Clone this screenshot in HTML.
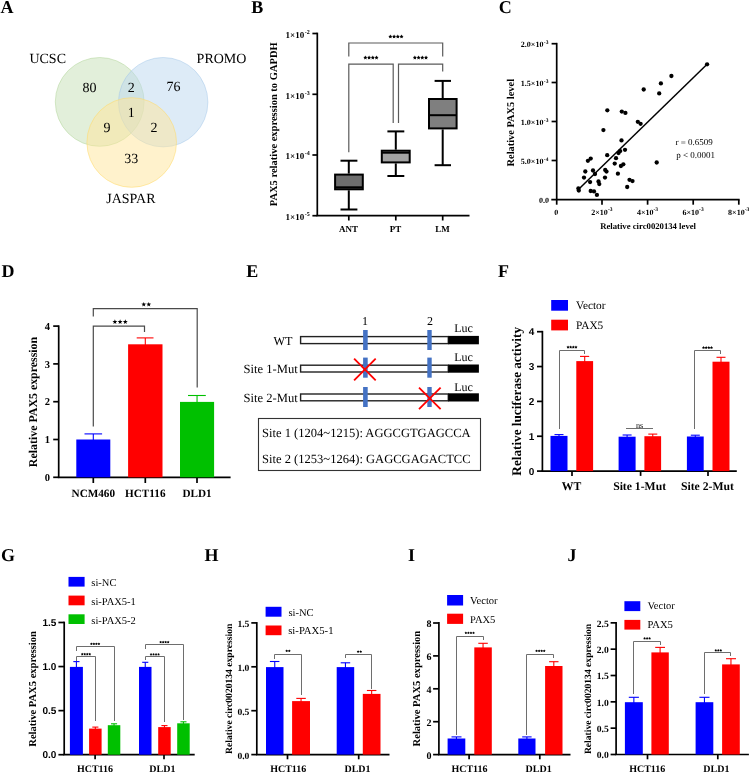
<!DOCTYPE html>
<html><head><meta charset="utf-8"><title>Figure</title>
<style>
html,body{margin:0;padding:0;background:#fff;}
body{width:750px;height:773px;overflow:hidden;}
svg{display:block;will-change:transform;}
text{font-kerning:normal;text-rendering:geometricPrecision;}
</style></head>
<body>
<svg width="750" height="773" viewBox="0 0 750 773">
<rect x="0" y="0" width="750" height="773" fill="#fff"/>
<text x="0.60" y="12.80" font-family="&quot;Liberation Serif&quot;, serif" font-size="18" font-weight="bold" text-anchor="start" fill="#000" >A</text>
<text x="251.20" y="12.80" font-family="&quot;Liberation Serif&quot;, serif" font-size="18" font-weight="bold" text-anchor="start" fill="#000" >B</text>
<text x="498.80" y="13.20" font-family="&quot;Liberation Serif&quot;, serif" font-size="18" font-weight="bold" text-anchor="start" fill="#000" >C</text>
<text x="1.60" y="277.40" font-family="&quot;Liberation Serif&quot;, serif" font-size="18" font-weight="bold" text-anchor="start" fill="#000" >D</text>
<text x="246.20" y="277.20" font-family="&quot;Liberation Serif&quot;, serif" font-size="18" font-weight="bold" text-anchor="start" fill="#000" >E</text>
<text x="498.00" y="277.20" font-family="&quot;Liberation Serif&quot;, serif" font-size="18" font-weight="bold" text-anchor="start" fill="#000" >F</text>
<text x="0.90" y="560.60" font-family="&quot;Liberation Serif&quot;, serif" font-size="18" font-weight="bold" text-anchor="start" fill="#000" >G</text>
<text x="204.40" y="560.80" font-family="&quot;Liberation Serif&quot;, serif" font-size="18" font-weight="bold" text-anchor="start" fill="#000" >H</text>
<text x="408.00" y="560.80" font-family="&quot;Liberation Serif&quot;, serif" font-size="18" font-weight="bold" text-anchor="start" fill="#000" >I</text>
<text x="567.60" y="560.80" font-family="&quot;Liberation Serif&quot;, serif" font-size="18" font-weight="bold" text-anchor="start" fill="#000" >J</text>
<g>
<circle cx="99.7" cy="101.9" r="44.4" fill="rgb(197,223,181)" fill-opacity="0.5" stroke="rgb(169,209,142)" stroke-opacity="0.45" stroke-width="1"/>
<circle cx="163.2" cy="102.2" r="44.7" fill="rgb(187,215,239)" fill-opacity="0.5" stroke="rgb(157,195,230)" stroke-opacity="0.45" stroke-width="1"/>
<circle cx="131.7" cy="142.5" r="44.8" fill="rgb(255,229,153)" fill-opacity="0.5" stroke="rgb(255,217,102)" stroke-opacity="0.5" stroke-width="1"/>
</g>
<text x="29.40" y="62.70" font-family="&quot;Liberation Serif&quot;, serif" font-size="14" font-weight="normal" text-anchor="start" fill="#000" >UCSC</text>
<text x="196.60" y="62.70" font-family="&quot;Liberation Serif&quot;, serif" font-size="14" font-weight="normal" text-anchor="start" fill="#000" >PROMO</text>
<text x="106.20" y="203.40" font-family="&quot;Liberation Serif&quot;, serif" font-size="14" font-weight="normal" text-anchor="start" fill="#000" >JASPAR</text>
<text x="89.50" y="91.50" font-family="&quot;Liberation Serif&quot;, serif" font-size="14" font-weight="normal" text-anchor="middle" fill="#000" >80</text>
<text x="131.20" y="91.50" font-family="&quot;Liberation Serif&quot;, serif" font-size="14" font-weight="normal" text-anchor="middle" fill="#000" >2</text>
<text x="173.60" y="91.40" font-family="&quot;Liberation Serif&quot;, serif" font-size="14" font-weight="normal" text-anchor="middle" fill="#000" >76</text>
<text x="131.30" y="117.30" font-family="&quot;Liberation Serif&quot;, serif" font-size="14" font-weight="normal" text-anchor="middle" fill="#000" >1</text>
<text x="107.00" y="131.60" font-family="&quot;Liberation Serif&quot;, serif" font-size="14" font-weight="normal" text-anchor="middle" fill="#000" >9</text>
<text x="153.90" y="131.70" font-family="&quot;Liberation Serif&quot;, serif" font-size="14" font-weight="normal" text-anchor="middle" fill="#000" >2</text>
<text x="131.30" y="162.90" font-family="&quot;Liberation Serif&quot;, serif" font-size="14" font-weight="normal" text-anchor="middle" fill="#000" >33</text>
<line x1="317.30" y1="32.65" x2="317.30" y2="215.70" stroke="#000" stroke-width="1.7" />
<line x1="316.45" y1="215.70" x2="469.50" y2="215.70" stroke="#000" stroke-width="1.7" />
<line x1="312.40" y1="33.50" x2="317.30" y2="33.50" stroke="#000" stroke-width="1.7" />
<text x="304.20" y="37.90" font-family="&quot;Liberation Serif&quot;, serif" font-size="9" font-weight="bold" text-anchor="end" fill="#000" >1×10</text>
<text x="304.80" y="33.90" font-family="&quot;Liberation Serif&quot;, serif" font-size="6" font-weight="bold" text-anchor="start" fill="#000" >-2</text>
<line x1="312.40" y1="94.30" x2="317.30" y2="94.30" stroke="#000" stroke-width="1.7" />
<text x="304.20" y="98.70" font-family="&quot;Liberation Serif&quot;, serif" font-size="9" font-weight="bold" text-anchor="end" fill="#000" >1×10</text>
<text x="304.80" y="94.70" font-family="&quot;Liberation Serif&quot;, serif" font-size="6" font-weight="bold" text-anchor="start" fill="#000" >-3</text>
<line x1="312.40" y1="155.00" x2="317.30" y2="155.00" stroke="#000" stroke-width="1.7" />
<text x="304.20" y="159.40" font-family="&quot;Liberation Serif&quot;, serif" font-size="9" font-weight="bold" text-anchor="end" fill="#000" >1×10</text>
<text x="304.80" y="155.40" font-family="&quot;Liberation Serif&quot;, serif" font-size="6" font-weight="bold" text-anchor="start" fill="#000" >-4</text>
<line x1="312.40" y1="215.70" x2="317.30" y2="215.70" stroke="#000" stroke-width="1.7" />
<text x="304.20" y="220.10" font-family="&quot;Liberation Serif&quot;, serif" font-size="9" font-weight="bold" text-anchor="end" fill="#000" >1×10</text>
<text x="304.80" y="216.10" font-family="&quot;Liberation Serif&quot;, serif" font-size="6" font-weight="bold" text-anchor="start" fill="#000" >-5</text>
<line x1="348.80" y1="215.70" x2="348.80" y2="220.50" stroke="#000" stroke-width="1.7" />
<line x1="395.80" y1="215.70" x2="395.80" y2="220.50" stroke="#000" stroke-width="1.7" />
<line x1="442.70" y1="215.70" x2="442.70" y2="220.50" stroke="#000" stroke-width="1.7" />
<text x="348.60" y="231.60" font-family="&quot;Liberation Serif&quot;, serif" font-size="9" font-weight="bold" text-anchor="middle" fill="#000" >ANT</text>
<text x="395.60" y="231.60" font-family="&quot;Liberation Serif&quot;, serif" font-size="9" font-weight="bold" text-anchor="middle" fill="#000" >PT</text>
<text x="442.60" y="231.60" font-family="&quot;Liberation Serif&quot;, serif" font-size="9" font-weight="bold" text-anchor="middle" fill="#000" >LM</text>
<text x="276.80" y="124.30" font-family="&quot;Liberation Serif&quot;, serif" font-size="10.5" font-weight="bold" text-anchor="middle" fill="#000" transform="rotate(-90 276.80 124.30)" >PAX5 relative expression to GAPDH</text>
<line x1="348.80" y1="160.70" x2="348.80" y2="173.60" stroke="#000" stroke-width="2.0" />
<line x1="348.80" y1="190.30" x2="348.80" y2="209.50" stroke="#000" stroke-width="2.0" />
<line x1="340.50" y1="160.70" x2="357.40" y2="160.70" stroke="#000" stroke-width="2.0" />
<line x1="340.50" y1="209.50" x2="357.40" y2="209.50" stroke="#000" stroke-width="2.0" />
<rect x="335.10" y="174.60" width="27.70" height="14.70" fill="#6e6e6e" stroke="#000" stroke-width="2.0" />
<line x1="335.10" y1="187.30" x2="362.80" y2="187.30" stroke="#000" stroke-width="2.0" />
<line x1="395.80" y1="131.40" x2="395.80" y2="149.70" stroke="#000" stroke-width="2.0" />
<line x1="395.80" y1="163.40" x2="395.80" y2="176.00" stroke="#000" stroke-width="2.0" />
<line x1="387.40" y1="131.40" x2="404.30" y2="131.40" stroke="#000" stroke-width="2.0" />
<line x1="387.40" y1="176.00" x2="404.30" y2="176.00" stroke="#000" stroke-width="2.0" />
<rect x="381.80" y="150.70" width="27.90" height="11.70" fill="#a3a3a3" stroke="#000" stroke-width="2.0" />
<line x1="381.80" y1="152.70" x2="409.70" y2="152.70" stroke="#000" stroke-width="2.0" />
<line x1="442.70" y1="80.90" x2="442.70" y2="98.00" stroke="#000" stroke-width="2.0" />
<line x1="442.70" y1="129.40" x2="442.70" y2="165.20" stroke="#000" stroke-width="2.0" />
<line x1="434.60" y1="80.90" x2="451.00" y2="80.90" stroke="#000" stroke-width="2.0" />
<line x1="434.60" y1="165.20" x2="451.00" y2="165.20" stroke="#000" stroke-width="2.0" />
<rect x="429.00" y="99.00" width="27.60" height="29.40" fill="#7f7f7f" stroke="#000" stroke-width="2.0" />
<line x1="429.00" y1="115.20" x2="456.60" y2="115.20" stroke="#000" stroke-width="2.0" />
<path d="M348.8,56.6 V43.0 H442.7 V56.6" stroke="#5a5a5a" stroke-width="1.2" fill="none" />
<path d="M348.8,152.3 V64.1 H393.2 V123.1" stroke="#5a5a5a" stroke-width="1.2" fill="none" />
<path d="M398.5,123.1 V64.1 H442.7 V71.5" stroke="#5a5a5a" stroke-width="1.2" fill="none" />
<polygon points="390.37,34.50 390.99,35.75 392.37,35.95 391.37,36.93 391.60,38.30 390.37,37.65 389.14,38.30 389.37,36.93 388.37,35.95 389.75,35.75" fill="#000"/>
<polygon points="394.09,34.50 394.71,35.75 396.09,35.95 395.09,36.93 395.32,38.30 394.09,37.65 392.86,38.30 393.09,36.93 392.09,35.95 393.47,35.75" fill="#000"/>
<polygon points="397.81,34.50 398.43,35.75 399.81,35.95 398.81,36.93 399.04,38.30 397.81,37.65 396.58,38.30 396.81,36.93 395.81,35.95 397.19,35.75" fill="#000"/>
<polygon points="401.53,34.50 402.15,35.75 403.53,35.95 402.53,36.93 402.76,38.30 401.53,37.65 400.30,38.30 400.53,36.93 399.53,35.95 400.91,35.75" fill="#000"/>
<polygon points="365.37,55.60 365.99,56.85 367.37,57.05 366.37,58.03 366.60,59.40 365.37,58.75 364.14,59.40 364.37,58.03 363.37,57.05 364.75,56.85" fill="#000"/>
<polygon points="369.09,55.60 369.71,56.85 371.09,57.05 370.09,58.03 370.32,59.40 369.09,58.75 367.86,59.40 368.09,58.03 367.09,57.05 368.47,56.85" fill="#000"/>
<polygon points="372.81,55.60 373.43,56.85 374.81,57.05 373.81,58.03 374.04,59.40 372.81,58.75 371.58,59.40 371.81,58.03 370.81,57.05 372.19,56.85" fill="#000"/>
<polygon points="376.53,55.60 377.15,56.85 378.53,57.05 377.53,58.03 377.76,59.40 376.53,58.75 375.30,59.40 375.53,58.03 374.53,57.05 375.91,56.85" fill="#000"/>
<polygon points="414.87,55.60 415.49,56.85 416.87,57.05 415.87,58.03 416.10,59.40 414.87,58.75 413.64,59.40 413.87,58.03 412.87,57.05 414.25,56.85" fill="#000"/>
<polygon points="418.59,55.60 419.21,56.85 420.59,57.05 419.59,58.03 419.82,59.40 418.59,58.75 417.36,59.40 417.59,58.03 416.59,57.05 417.97,56.85" fill="#000"/>
<polygon points="422.31,55.60 422.93,56.85 424.31,57.05 423.31,58.03 423.54,59.40 422.31,58.75 421.08,59.40 421.31,58.03 420.31,57.05 421.69,56.85" fill="#000"/>
<polygon points="426.03,55.60 426.65,56.85 428.03,57.05 427.03,58.03 427.26,59.40 426.03,58.75 424.80,59.40 425.03,58.03 424.03,57.05 425.41,56.85" fill="#000"/>
<line x1="556.70" y1="42.85" x2="556.70" y2="204.70" stroke="#000" stroke-width="1.7" />
<line x1="551.30" y1="199.70" x2="739.65" y2="199.70" stroke="#000" stroke-width="1.7" />
<line x1="551.60" y1="43.70" x2="556.70" y2="43.70" stroke="#000" stroke-width="1.7" />
<line x1="551.60" y1="82.50" x2="556.70" y2="82.50" stroke="#000" stroke-width="1.7" />
<line x1="551.60" y1="121.50" x2="556.70" y2="121.50" stroke="#000" stroke-width="1.7" />
<line x1="551.60" y1="160.50" x2="556.70" y2="160.50" stroke="#000" stroke-width="1.7" />
<line x1="602.00" y1="199.70" x2="602.00" y2="204.70" stroke="#000" stroke-width="1.7" />
<line x1="647.60" y1="199.70" x2="647.60" y2="204.70" stroke="#000" stroke-width="1.7" />
<line x1="693.20" y1="199.70" x2="693.20" y2="204.70" stroke="#000" stroke-width="1.7" />
<line x1="738.80" y1="199.70" x2="738.80" y2="204.70" stroke="#000" stroke-width="1.7" />
<text x="543.40" y="47.10" font-family="&quot;Liberation Serif&quot;, serif" font-size="8" font-weight="bold" text-anchor="end" fill="#000" >2.0×10</text>
<text x="543.80" y="43.70" font-family="&quot;Liberation Serif&quot;, serif" font-size="5.5" font-weight="bold" text-anchor="start" fill="#000" >-3</text>
<text x="543.40" y="85.90" font-family="&quot;Liberation Serif&quot;, serif" font-size="8" font-weight="bold" text-anchor="end" fill="#000" >1.5×10</text>
<text x="543.80" y="82.50" font-family="&quot;Liberation Serif&quot;, serif" font-size="5.5" font-weight="bold" text-anchor="start" fill="#000" >-3</text>
<text x="543.40" y="124.90" font-family="&quot;Liberation Serif&quot;, serif" font-size="8" font-weight="bold" text-anchor="end" fill="#000" >1.0×10</text>
<text x="543.80" y="121.50" font-family="&quot;Liberation Serif&quot;, serif" font-size="5.5" font-weight="bold" text-anchor="start" fill="#000" >-3</text>
<text x="543.40" y="163.90" font-family="&quot;Liberation Serif&quot;, serif" font-size="8" font-weight="bold" text-anchor="end" fill="#000" >5.0×10</text>
<text x="543.80" y="160.50" font-family="&quot;Liberation Serif&quot;, serif" font-size="5.5" font-weight="bold" text-anchor="start" fill="#000" >-4</text>
<text x="548.90" y="202.90" font-family="&quot;Liberation Serif&quot;, serif" font-size="8" font-weight="bold" text-anchor="end" fill="#000" >0.0</text>
<text x="556.20" y="214.80" font-family="&quot;Liberation Serif&quot;, serif" font-size="8" font-weight="bold" text-anchor="middle" fill="#000" >0</text>
<text x="591.30" y="215.00" font-family="&quot;Liberation Serif&quot;, serif" font-size="8" font-weight="bold" text-anchor="start" fill="#000" >2×10</text>
<text x="607.90" y="211.20" font-family="&quot;Liberation Serif&quot;, serif" font-size="5.5" font-weight="bold" text-anchor="start" fill="#000" >-3</text>
<text x="636.90" y="215.00" font-family="&quot;Liberation Serif&quot;, serif" font-size="8" font-weight="bold" text-anchor="start" fill="#000" >4×10</text>
<text x="653.50" y="211.20" font-family="&quot;Liberation Serif&quot;, serif" font-size="5.5" font-weight="bold" text-anchor="start" fill="#000" >-3</text>
<text x="682.50" y="215.00" font-family="&quot;Liberation Serif&quot;, serif" font-size="8" font-weight="bold" text-anchor="start" fill="#000" >6×10</text>
<text x="699.10" y="211.20" font-family="&quot;Liberation Serif&quot;, serif" font-size="5.5" font-weight="bold" text-anchor="start" fill="#000" >-3</text>
<text x="728.10" y="215.00" font-family="&quot;Liberation Serif&quot;, serif" font-size="8" font-weight="bold" text-anchor="start" fill="#000" >8×10</text>
<text x="744.70" y="211.20" font-family="&quot;Liberation Serif&quot;, serif" font-size="5.5" font-weight="bold" text-anchor="start" fill="#000" >-3</text>
<text x="648.10" y="228.70" font-family="&quot;Liberation Serif&quot;, serif" font-size="8.7" font-weight="bold" text-anchor="middle" fill="#000" >Relative circ0020134 level</text>
<text x="514.20" y="122.70" font-family="&quot;Liberation Serif&quot;, serif" font-size="10.4" font-weight="bold" text-anchor="middle" fill="#000" transform="rotate(-90 514.20 122.70)" >Relative PAX5 level</text>
<circle cx="707.1" cy="64.3" r="2.15" fill="#000"/>
<circle cx="671.4" cy="76.0" r="2.15" fill="#000"/>
<circle cx="660.9" cy="83.4" r="2.15" fill="#000"/>
<circle cx="659.2" cy="93.4" r="2.15" fill="#000"/>
<circle cx="643.7" cy="89.5" r="2.15" fill="#000"/>
<circle cx="637.8" cy="121.8" r="2.15" fill="#000"/>
<circle cx="640.6" cy="123.8" r="2.15" fill="#000"/>
<circle cx="656.7" cy="162.5" r="2.15" fill="#000"/>
<circle cx="607.3" cy="110.3" r="2.15" fill="#000"/>
<circle cx="621.8" cy="111.6" r="2.15" fill="#000"/>
<circle cx="625.4" cy="112.9" r="2.15" fill="#000"/>
<circle cx="603.4" cy="130.1" r="2.15" fill="#000"/>
<circle cx="621.5" cy="140.4" r="2.15" fill="#000"/>
<circle cx="625.0" cy="149.8" r="2.15" fill="#000"/>
<circle cx="620.2" cy="151.1" r="2.15" fill="#000"/>
<circle cx="618.5" cy="153.0" r="2.15" fill="#000"/>
<circle cx="607.2" cy="155.2" r="2.15" fill="#000"/>
<circle cx="590.7" cy="158.6" r="2.15" fill="#000"/>
<circle cx="587.9" cy="160.8" r="2.15" fill="#000"/>
<circle cx="616.0" cy="158.2" r="2.15" fill="#000"/>
<circle cx="614.7" cy="163.6" r="2.15" fill="#000"/>
<circle cx="623.3" cy="164.3" r="2.15" fill="#000"/>
<circle cx="620.9" cy="166.0" r="2.15" fill="#000"/>
<circle cx="585.3" cy="171.5" r="2.15" fill="#000"/>
<circle cx="593.0" cy="170.5" r="2.15" fill="#000"/>
<circle cx="605.2" cy="169.9" r="2.15" fill="#000"/>
<circle cx="606.5" cy="171.6" r="2.15" fill="#000"/>
<circle cx="595.0" cy="174.0" r="2.15" fill="#000"/>
<circle cx="617.9" cy="173.7" r="2.15" fill="#000"/>
<circle cx="584.0" cy="177.6" r="2.15" fill="#000"/>
<circle cx="605.0" cy="177.6" r="2.15" fill="#000"/>
<circle cx="590.1" cy="182.1" r="2.15" fill="#000"/>
<circle cx="598.5" cy="181.5" r="2.15" fill="#000"/>
<circle cx="599.3" cy="184.1" r="2.15" fill="#000"/>
<circle cx="629.5" cy="179.8" r="2.15" fill="#000"/>
<circle cx="632.5" cy="181.1" r="2.15" fill="#000"/>
<circle cx="627.2" cy="187.0" r="2.15" fill="#000"/>
<circle cx="578.4" cy="188.4" r="2.15" fill="#000"/>
<circle cx="578.8" cy="190.6" r="2.15" fill="#000"/>
<circle cx="590.7" cy="191.0" r="2.15" fill="#000"/>
<circle cx="594.0" cy="191.4" r="2.15" fill="#000"/>
<circle cx="596.9" cy="194.9" r="2.15" fill="#000"/>
<line x1="578.90" y1="189.00" x2="707.10" y2="64.30" stroke="#000" stroke-width="1.5" />
<text x="675.50" y="145.00" font-family="&quot;Liberation Serif&quot;, serif" font-size="9" font-weight="normal" text-anchor="start" fill="#000" >r = 0.6509</text>
<text x="676.20" y="158.30" font-family="&quot;Liberation Serif&quot;, serif" font-size="9" font-weight="normal" text-anchor="start" fill="#000" >p &lt; 0.0001</text>
<line x1="58.70" y1="325.35" x2="58.70" y2="477.30" stroke="#000" stroke-width="1.7" />
<line x1="57.85" y1="477.30" x2="230.60" y2="477.30" stroke="#000" stroke-width="1.7" />
<line x1="53.20" y1="477.30" x2="58.70" y2="477.30" stroke="#000" stroke-width="1.7" />
<text x="50.00" y="480.90" font-family="&quot;Liberation Serif&quot;, serif" font-size="10.5" font-weight="bold" text-anchor="end" fill="#000" >0</text>
<line x1="53.20" y1="439.50" x2="58.70" y2="439.50" stroke="#000" stroke-width="1.7" />
<text x="50.00" y="443.10" font-family="&quot;Liberation Serif&quot;, serif" font-size="10.5" font-weight="bold" text-anchor="end" fill="#000" >1</text>
<line x1="53.20" y1="401.70" x2="58.70" y2="401.70" stroke="#000" stroke-width="1.7" />
<text x="50.00" y="405.30" font-family="&quot;Liberation Serif&quot;, serif" font-size="10.5" font-weight="bold" text-anchor="end" fill="#000" >2</text>
<line x1="53.20" y1="363.90" x2="58.70" y2="363.90" stroke="#000" stroke-width="1.7" />
<text x="50.00" y="367.50" font-family="&quot;Liberation Serif&quot;, serif" font-size="10.5" font-weight="bold" text-anchor="end" fill="#000" >3</text>
<line x1="53.20" y1="326.10" x2="58.70" y2="326.10" stroke="#000" stroke-width="1.7" />
<text x="50.00" y="329.70" font-family="&quot;Liberation Serif&quot;, serif" font-size="10.5" font-weight="bold" text-anchor="end" fill="#000" >4</text>
<line x1="93.30" y1="477.30" x2="93.30" y2="483.00" stroke="#000" stroke-width="1.7" />
<line x1="145.30" y1="477.30" x2="145.30" y2="483.00" stroke="#000" stroke-width="1.7" />
<line x1="197.00" y1="477.30" x2="197.00" y2="483.00" stroke="#000" stroke-width="1.7" />
<rect x="76.30" y="439.50" width="34.00" height="37.80" fill="#0000ff" />
<line x1="93.30" y1="433.90" x2="93.30" y2="440.50" stroke="#0000ff" stroke-width="1.1" />
<line x1="84.50" y1="433.90" x2="102.10" y2="433.90" stroke="#0000ff" stroke-width="1.1" />
<rect x="128.10" y="344.30" width="34.40" height="133.00" fill="#ff0000" />
<line x1="145.30" y1="337.90" x2="145.30" y2="345.30" stroke="#ff0000" stroke-width="1.1" />
<line x1="136.70" y1="337.90" x2="153.50" y2="337.90" stroke="#ff0000" stroke-width="1.1" />
<rect x="180.00" y="401.90" width="34.10" height="75.40" fill="#00c000" />
<line x1="197.05" y1="395.50" x2="197.05" y2="402.90" stroke="#00c000" stroke-width="1.1" />
<line x1="188.00" y1="395.50" x2="205.80" y2="395.50" stroke="#00c000" stroke-width="1.1" />
<path d="M93.3,316.6 V308.7 H197.2 V387.4" stroke="#4a4a4a" stroke-width="1.2" fill="none" />
<path d="M93.3,426.4 V326.1 H144.5 V332.0" stroke="#4a4a4a" stroke-width="1.2" fill="none" />
<polygon points="143.75,301.89 144.35,303.62 146.18,303.66 144.72,304.76 145.25,306.51 143.75,305.46 142.25,306.51 142.78,304.76 141.32,303.66 143.15,303.62" fill="#000"/>
<polygon points="148.75,301.89 149.35,303.62 151.18,303.66 149.72,304.76 150.25,306.51 148.75,305.46 147.25,306.51 147.78,304.76 146.32,303.66 148.15,303.62" fill="#000"/>
<polygon points="114.90,319.30 115.51,321.06 117.37,321.09 115.89,322.22 116.43,324.00 114.90,322.94 113.37,324.00 113.91,322.22 112.43,321.09 114.29,321.06" fill="#000"/>
<polygon points="120.10,319.30 120.71,321.06 122.57,321.09 121.09,322.22 121.63,324.00 120.10,322.94 118.57,324.00 119.11,322.22 117.63,321.09 119.49,321.06" fill="#000"/>
<polygon points="125.30,319.30 125.91,321.06 127.77,321.09 126.29,322.22 126.83,324.00 125.30,322.94 123.77,324.00 124.31,322.22 122.83,321.09 124.69,321.06" fill="#000"/>
<text x="93.30" y="496.60" font-family="&quot;Liberation Serif&quot;, serif" font-size="11.2" font-weight="bold" text-anchor="middle" fill="#000" >NCM460</text>
<text x="145.30" y="496.60" font-family="&quot;Liberation Serif&quot;, serif" font-size="11.2" font-weight="bold" text-anchor="middle" fill="#000" >HCT116</text>
<text x="197.00" y="496.60" font-family="&quot;Liberation Serif&quot;, serif" font-size="11.2" font-weight="bold" text-anchor="middle" fill="#000" >DLD1</text>
<text x="37.10" y="402.00" font-family="&quot;Liberation Serif&quot;, serif" font-size="11.9" font-weight="bold" text-anchor="middle" fill="#000" transform="rotate(-90 37.10 402.00)" >Relative PAX5 expression</text>
<rect x="300.60" y="336.60" width="147.70" height="7.00" fill="#fff" stroke="#222" stroke-width="1.4" />
<rect x="448.30" y="335.90" width="30.60" height="8.40" fill="#000" />
<rect x="300.60" y="365.20" width="147.70" height="6.80" fill="#fff" stroke="#222" stroke-width="1.4" />
<rect x="448.30" y="364.50" width="30.60" height="8.20" fill="#000" />
<rect x="300.60" y="394.00" width="147.70" height="6.80" fill="#fff" stroke="#222" stroke-width="1.4" />
<rect x="448.30" y="393.30" width="30.60" height="8.20" fill="#000" />
<rect x="363.10" y="330.00" width="4.60" height="20.00" fill="#4472c4" />
<rect x="427.30" y="330.00" width="4.40" height="20.00" fill="#4472c4" />
<rect x="363.10" y="357.60" width="4.60" height="20.10" fill="#4472c4" />
<rect x="427.30" y="357.60" width="4.40" height="20.10" fill="#4472c4" />
<rect x="363.10" y="387.00" width="4.60" height="20.00" fill="#4472c4" />
<rect x="427.30" y="387.00" width="4.40" height="20.00" fill="#4472c4" />
<line x1="354.10" y1="358.70" x2="375.70" y2="380.30" stroke="#ff0000" stroke-width="1.8" />
<line x1="354.10" y1="380.30" x2="375.70" y2="358.70" stroke="#ff0000" stroke-width="1.8" />
<line x1="419.00" y1="387.60" x2="440.60" y2="409.20" stroke="#ff0000" stroke-width="1.8" />
<line x1="419.00" y1="409.20" x2="440.60" y2="387.60" stroke="#ff0000" stroke-width="1.8" />
<text x="365.00" y="325.20" font-family="&quot;Liberation Serif&quot;, serif" font-size="12" font-weight="normal" text-anchor="middle" fill="#000" >1</text>
<text x="429.90" y="324.90" font-family="&quot;Liberation Serif&quot;, serif" font-size="12" font-weight="normal" text-anchor="middle" fill="#000" >2</text>
<text x="463.50" y="332.00" font-family="&quot;Liberation Serif&quot;, serif" font-size="12" font-weight="normal" text-anchor="middle" fill="#000" >Luc</text>
<text x="463.50" y="360.90" font-family="&quot;Liberation Serif&quot;, serif" font-size="12" font-weight="normal" text-anchor="middle" fill="#000" >Luc</text>
<text x="463.50" y="391.00" font-family="&quot;Liberation Serif&quot;, serif" font-size="12" font-weight="normal" text-anchor="middle" fill="#000" >Luc</text>
<text x="273.40" y="344.80" font-family="&quot;Liberation Serif&quot;, serif" font-size="12.2" font-weight="normal" text-anchor="start" fill="#000" >WT</text>
<text x="297.70" y="372.70" font-family="&quot;Liberation Serif&quot;, serif" font-size="12.6" font-weight="normal" text-anchor="end" fill="#000" >Site 1-Mut</text>
<text x="297.70" y="401.60" font-family="&quot;Liberation Serif&quot;, serif" font-size="12.6" font-weight="normal" text-anchor="end" fill="#000" >Site 2-Mut</text>
<rect x="258.50" y="418.50" width="222.00" height="52.00" fill="none" stroke="#333" stroke-width="1.1" />
<text x="262.00" y="437.30" font-family="&quot;Liberation Serif&quot;, serif" font-size="12.55" font-weight="normal" text-anchor="start" fill="#000" >Site 1 (1204~1215): AGGCGTGAGCCA</text>
<text x="262.00" y="462.80" font-family="&quot;Liberation Serif&quot;, serif" font-size="12.55" font-weight="normal" text-anchor="start" fill="#000" >Site 2 (1253~1264): GAGCGAGACTCC</text>
<line x1="542.40" y1="330.85" x2="542.40" y2="471.10" stroke="#000" stroke-width="1.7" />
<line x1="541.55" y1="471.10" x2="736.80" y2="471.10" stroke="#000" stroke-width="1.7" />
<line x1="537.00" y1="471.10" x2="542.40" y2="471.10" stroke="#000" stroke-width="1.7" />
<text x="534.20" y="474.70" font-family="&quot;Liberation Sans&quot;, sans-serif" font-size="10" font-weight="bold" text-anchor="end" fill="#000" >0</text>
<line x1="537.00" y1="436.25" x2="542.40" y2="436.25" stroke="#000" stroke-width="1.7" />
<text x="534.20" y="439.85" font-family="&quot;Liberation Sans&quot;, sans-serif" font-size="10" font-weight="bold" text-anchor="end" fill="#000" >1</text>
<line x1="537.00" y1="401.40" x2="542.40" y2="401.40" stroke="#000" stroke-width="1.7" />
<text x="534.20" y="405.00" font-family="&quot;Liberation Sans&quot;, sans-serif" font-size="10" font-weight="bold" text-anchor="end" fill="#000" >2</text>
<line x1="537.00" y1="366.55" x2="542.40" y2="366.55" stroke="#000" stroke-width="1.7" />
<text x="534.20" y="370.15" font-family="&quot;Liberation Sans&quot;, sans-serif" font-size="10" font-weight="bold" text-anchor="end" fill="#000" >3</text>
<line x1="537.00" y1="331.70" x2="542.40" y2="331.70" stroke="#000" stroke-width="1.7" />
<text x="534.20" y="335.30" font-family="&quot;Liberation Sans&quot;, sans-serif" font-size="10" font-weight="bold" text-anchor="end" fill="#000" >4</text>
<line x1="572.00" y1="471.10" x2="572.00" y2="475.90" stroke="#000" stroke-width="1.7" />
<line x1="640.60" y1="471.10" x2="640.60" y2="475.90" stroke="#000" stroke-width="1.7" />
<line x1="708.00" y1="471.10" x2="708.00" y2="475.90" stroke="#000" stroke-width="1.7" />
<rect x="550.50" y="435.90" width="17.00" height="35.20" fill="#0000ff" />
<line x1="559.00" y1="434.60" x2="559.00" y2="436.90" stroke="#0000ff" stroke-width="1.1" />
<line x1="554.50" y1="434.60" x2="563.50" y2="434.60" stroke="#0000ff" stroke-width="1.1" />
<rect x="576.30" y="361.10" width="16.80" height="110.00" fill="#ff0000" />
<line x1="584.70" y1="356.40" x2="584.70" y2="362.10" stroke="#ff0000" stroke-width="1.1" />
<line x1="580.00" y1="356.40" x2="589.20" y2="356.40" stroke="#ff0000" stroke-width="1.1" />
<rect x="618.60" y="436.70" width="17.00" height="34.40" fill="#0000ff" />
<line x1="627.10" y1="435.00" x2="627.10" y2="437.70" stroke="#0000ff" stroke-width="1.1" />
<line x1="622.60" y1="435.00" x2="631.60" y2="435.00" stroke="#0000ff" stroke-width="1.1" />
<rect x="644.40" y="436.20" width="16.70" height="34.90" fill="#ff0000" />
<line x1="652.75" y1="434.10" x2="652.75" y2="437.20" stroke="#ff0000" stroke-width="1.1" />
<line x1="648.30" y1="434.10" x2="657.30" y2="434.10" stroke="#ff0000" stroke-width="1.1" />
<rect x="686.90" y="436.50" width="16.80" height="34.60" fill="#0000ff" />
<line x1="695.30" y1="435.20" x2="695.30" y2="437.50" stroke="#0000ff" stroke-width="1.1" />
<line x1="690.80" y1="435.20" x2="699.80" y2="435.20" stroke="#0000ff" stroke-width="1.1" />
<rect x="712.50" y="361.70" width="17.00" height="109.40" fill="#ff0000" />
<line x1="721.00" y1="357.30" x2="721.00" y2="362.70" stroke="#ff0000" stroke-width="1.1" />
<line x1="716.50" y1="357.30" x2="725.50" y2="357.30" stroke="#ff0000" stroke-width="1.1" />
<path d="M559.5,428.5 V350.5 H584.5 V353.5" stroke="#6e6e6e" stroke-width="1.0" fill="none" stroke-linecap="square"/>
<path d="M694.5,428.5 V350.5 H720.5 V353.5" stroke="#6e6e6e" stroke-width="1.0" fill="none" stroke-linecap="square"/>
<path d="M626.5,428.5 H652.5" stroke="#6e6e6e" stroke-width="1.0" fill="none" stroke-linecap="square"/>
<polygon points="568.02,345.60 568.54,346.49 569.55,346.71 568.86,347.47 568.97,348.50 568.02,348.08 567.08,348.50 567.19,347.47 566.50,346.71 567.51,346.49" fill="#000"/>
<polygon points="570.67,345.60 571.19,346.49 572.20,346.71 571.51,347.47 571.62,348.50 570.67,348.08 569.73,348.50 569.84,347.47 569.15,346.71 570.16,346.49" fill="#000"/>
<polygon points="573.33,345.60 573.84,346.49 574.85,346.71 574.16,347.47 574.27,348.50 573.33,348.08 572.38,348.50 572.49,347.47 571.80,346.71 572.81,346.49" fill="#000"/>
<polygon points="575.98,345.60 576.49,346.49 577.50,346.71 576.81,347.47 576.92,348.50 575.98,348.08 575.03,348.50 575.14,347.47 574.45,346.71 575.46,346.49" fill="#000"/>
<polygon points="703.52,346.05 704.04,346.94 705.05,347.16 704.36,347.92 704.47,348.95 703.52,348.53 702.58,348.95 702.69,347.92 702.00,347.16 703.01,346.94" fill="#000"/>
<polygon points="706.17,346.05 706.69,346.94 707.70,347.16 707.01,347.92 707.12,348.95 706.17,348.53 705.23,348.95 705.34,347.92 704.65,347.16 705.66,346.94" fill="#000"/>
<polygon points="708.83,346.05 709.34,346.94 710.35,347.16 709.66,347.92 709.77,348.95 708.83,348.53 707.88,348.95 707.99,347.92 707.30,347.16 708.31,346.94" fill="#000"/>
<polygon points="711.48,346.05 711.99,346.94 713.00,347.16 712.31,347.92 712.42,348.95 711.48,348.53 710.53,348.95 710.64,347.92 709.95,347.16 710.96,346.94" fill="#000"/>
<text x="639.60" y="427.60" font-family="&quot;Liberation Serif&quot;, serif" font-size="8.2" font-weight="normal" text-anchor="middle" fill="#000" >ns</text>
<rect x="551.20" y="300.00" width="16.80" height="10.70" fill="#0000ff" />
<rect x="551.20" y="319.70" width="16.80" height="10.70" fill="#ff0000" />
<text x="576.00" y="309.30" font-family="&quot;Liberation Serif&quot;, serif" font-size="11.3" font-weight="normal" text-anchor="start" fill="#000" >Vector</text>
<text x="576.00" y="328.90" font-family="&quot;Liberation Serif&quot;, serif" font-size="11.3" font-weight="normal" text-anchor="start" fill="#000" >PAX5</text>
<text x="571.60" y="490.20" font-family="&quot;Liberation Serif&quot;, serif" font-size="11.7" font-weight="bold" text-anchor="middle" fill="#000" >WT</text>
<text x="639.60" y="490.20" font-family="&quot;Liberation Serif&quot;, serif" font-size="11.7" font-weight="bold" text-anchor="middle" fill="#000" >Site 1-Mut</text>
<text x="707.40" y="490.20" font-family="&quot;Liberation Serif&quot;, serif" font-size="11.7" font-weight="bold" text-anchor="middle" fill="#000" >Site 2-Mut</text>
<text x="520.80" y="401.30" font-family="&quot;Liberation Serif&quot;, serif" font-size="13.2" font-weight="bold" text-anchor="middle" fill="#000" transform="rotate(-90 520.80 401.30)" >Relative luciferase activity</text>
<line x1="64.20" y1="621.65" x2="64.20" y2="754.70" stroke="#000" stroke-width="1.7" />
<line x1="63.35" y1="754.70" x2="194.70" y2="754.70" stroke="#000" stroke-width="1.7" />
<line x1="58.40" y1="754.70" x2="64.20" y2="754.70" stroke="#000" stroke-width="1.7" />
<text x="56.40" y="758.30" font-family="&quot;Liberation Sans&quot;, sans-serif" font-size="10" font-weight="bold" text-anchor="end" fill="#000" >0.0</text>
<line x1="58.40" y1="710.63" x2="64.20" y2="710.63" stroke="#000" stroke-width="1.7" />
<text x="56.40" y="714.23" font-family="&quot;Liberation Sans&quot;, sans-serif" font-size="10" font-weight="bold" text-anchor="end" fill="#000" >0.5</text>
<line x1="58.40" y1="666.56" x2="64.20" y2="666.56" stroke="#000" stroke-width="1.7" />
<text x="56.40" y="670.16" font-family="&quot;Liberation Sans&quot;, sans-serif" font-size="10" font-weight="bold" text-anchor="end" fill="#000" >1.0</text>
<line x1="58.40" y1="622.49" x2="64.20" y2="622.49" stroke="#000" stroke-width="1.7" />
<text x="56.40" y="626.09" font-family="&quot;Liberation Sans&quot;, sans-serif" font-size="10" font-weight="bold" text-anchor="end" fill="#000" >1.5</text>
<line x1="95.10" y1="754.70" x2="95.10" y2="759.30" stroke="#000" stroke-width="1.7" />
<line x1="164.00" y1="754.70" x2="164.00" y2="759.30" stroke="#000" stroke-width="1.7" />
<rect x="69.90" y="666.90" width="13.00" height="87.80" fill="#0000ff" />
<line x1="76.40" y1="661.60" x2="76.40" y2="667.90" stroke="#0000ff" stroke-width="1.1" />
<line x1="73.30" y1="661.60" x2="79.50" y2="661.60" stroke="#0000ff" stroke-width="1.1" />
<rect x="89.10" y="728.60" width="12.50" height="26.10" fill="#ff0000" />
<line x1="95.35" y1="727.10" x2="95.35" y2="729.60" stroke="#ff0000" stroke-width="1.1" />
<line x1="92.30" y1="727.10" x2="98.40" y2="727.10" stroke="#ff0000" stroke-width="1.1" />
<rect x="107.80" y="725.20" width="12.50" height="29.50" fill="#00c000" />
<line x1="114.05" y1="723.80" x2="114.05" y2="726.20" stroke="#00c000" stroke-width="1.1" />
<line x1="111.00" y1="723.80" x2="117.10" y2="723.80" stroke="#00c000" stroke-width="1.1" />
<rect x="139.00" y="666.90" width="12.50" height="87.80" fill="#0000ff" />
<line x1="145.25" y1="662.30" x2="145.25" y2="667.90" stroke="#0000ff" stroke-width="1.1" />
<line x1="142.20" y1="662.30" x2="148.30" y2="662.30" stroke="#0000ff" stroke-width="1.1" />
<rect x="158.20" y="727.10" width="12.50" height="27.60" fill="#ff0000" />
<line x1="164.45" y1="725.60" x2="164.45" y2="728.10" stroke="#ff0000" stroke-width="1.1" />
<line x1="161.40" y1="725.60" x2="167.50" y2="725.60" stroke="#ff0000" stroke-width="1.1" />
<rect x="177.20" y="723.30" width="12.50" height="31.40" fill="#00c000" />
<line x1="183.45" y1="721.80" x2="183.45" y2="724.30" stroke="#00c000" stroke-width="1.1" />
<line x1="180.40" y1="721.80" x2="186.50" y2="721.80" stroke="#00c000" stroke-width="1.1" />
<path d="M76.5,660.5 V656.5 H95.5 V720.5" stroke="#6e6e6e" stroke-width="1.0" fill="none" stroke-linecap="square"/>
<path d="M76.5,650.5 V646.5 H114.5 V720.5" stroke="#6e6e6e" stroke-width="1.0" fill="none" stroke-linecap="square"/>
<path d="M145.5,659.5 V656.5 H164.5 V721.5" stroke="#6e6e6e" stroke-width="1.0" fill="none" stroke-linecap="square"/>
<path d="M145.5,648.5 V644.5 H183.5 V719.5" stroke="#6e6e6e" stroke-width="1.0" fill="none" stroke-linecap="square"/>
<polygon points="82.25,652.79 82.72,653.59 83.63,653.79 83.01,654.48 83.10,655.41 82.25,655.04 81.40,655.41 81.49,654.48 80.87,653.79 81.78,653.59" fill="#000"/>
<polygon points="84.75,652.79 85.22,653.59 86.13,653.79 85.51,654.48 85.60,655.41 84.75,655.04 83.90,655.41 83.99,654.48 83.37,653.79 84.28,653.59" fill="#000"/>
<polygon points="87.25,652.79 87.72,653.59 88.63,653.79 88.01,654.48 88.10,655.41 87.25,655.04 86.40,655.41 86.49,654.48 85.87,653.79 86.78,653.59" fill="#000"/>
<polygon points="89.75,652.79 90.22,653.59 91.13,653.79 90.51,654.48 90.60,655.41 89.75,655.04 88.90,655.41 88.99,654.48 88.37,653.79 89.28,653.59" fill="#000"/>
<polygon points="91.40,642.49 91.87,643.29 92.78,643.49 92.16,644.18 92.25,645.11 91.40,644.74 90.55,645.11 90.64,644.18 90.02,643.49 90.93,643.29" fill="#000"/>
<polygon points="93.90,642.49 94.37,643.29 95.28,643.49 94.66,644.18 94.75,645.11 93.90,644.74 93.05,645.11 93.14,644.18 92.52,643.49 93.43,643.29" fill="#000"/>
<polygon points="96.40,642.49 96.87,643.29 97.78,643.49 97.16,644.18 97.25,645.11 96.40,644.74 95.55,645.11 95.64,644.18 95.02,643.49 95.93,643.29" fill="#000"/>
<polygon points="98.90,642.49 99.37,643.29 100.28,643.49 99.66,644.18 99.75,645.11 98.90,644.74 98.05,645.11 98.14,644.18 97.52,643.49 98.43,643.29" fill="#000"/>
<polygon points="151.05,652.89 151.52,653.69 152.43,653.89 151.81,654.58 151.90,655.51 151.05,655.14 150.20,655.51 150.29,654.58 149.67,653.89 150.58,653.69" fill="#000"/>
<polygon points="153.55,652.89 154.02,653.69 154.93,653.89 154.31,654.58 154.40,655.51 153.55,655.14 152.70,655.51 152.79,654.58 152.17,653.89 153.08,653.69" fill="#000"/>
<polygon points="156.05,652.89 156.52,653.69 157.43,653.89 156.81,654.58 156.90,655.51 156.05,655.14 155.20,655.51 155.29,654.58 154.67,653.89 155.58,653.69" fill="#000"/>
<polygon points="158.55,652.89 159.02,653.69 159.93,653.89 159.31,654.58 159.40,655.51 158.55,655.14 157.70,655.51 157.79,654.58 157.17,653.89 158.08,653.69" fill="#000"/>
<polygon points="160.65,640.69 161.12,641.49 162.03,641.69 161.41,642.38 161.50,643.31 160.65,642.94 159.80,643.31 159.89,642.38 159.27,641.69 160.18,641.49" fill="#000"/>
<polygon points="163.15,640.69 163.62,641.49 164.53,641.69 163.91,642.38 164.00,643.31 163.15,642.94 162.30,643.31 162.39,642.38 161.77,641.69 162.68,641.49" fill="#000"/>
<polygon points="165.65,640.69 166.12,641.49 167.03,641.69 166.41,642.38 166.50,643.31 165.65,642.94 164.80,643.31 164.89,642.38 164.27,641.69 165.18,641.49" fill="#000"/>
<polygon points="168.15,640.69 168.62,641.49 169.53,641.69 168.91,642.38 169.00,643.31 168.15,642.94 167.30,643.31 167.39,642.38 166.77,641.69 167.68,641.49" fill="#000"/>
<rect x="68.50" y="576.90" width="16.10" height="9.70" fill="#0000ff" />
<rect x="68.50" y="595.60" width="16.10" height="9.70" fill="#ff0000" />
<rect x="68.50" y="614.30" width="16.10" height="9.70" fill="#00c000" />
<text x="91.30" y="586.20" font-family="&quot;Liberation Serif&quot;, serif" font-size="10.5" font-weight="normal" text-anchor="start" fill="#000" >si-NC</text>
<text x="91.30" y="604.90" font-family="&quot;Liberation Serif&quot;, serif" font-size="10.5" font-weight="normal" text-anchor="start" fill="#000" >si-PAX5-1</text>
<text x="91.30" y="623.60" font-family="&quot;Liberation Serif&quot;, serif" font-size="10.5" font-weight="normal" text-anchor="start" fill="#000" >si-PAX5-2</text>
<text x="95.00" y="771.80" font-family="&quot;Liberation Serif&quot;, serif" font-size="10" font-weight="bold" text-anchor="middle" fill="#000" >HCT116</text>
<text x="162.40" y="771.80" font-family="&quot;Liberation Serif&quot;, serif" font-size="10" font-weight="bold" text-anchor="middle" fill="#000" >DLD1</text>
<text x="35.70" y="688.90" font-family="&quot;Liberation Serif&quot;, serif" font-size="10.55" font-weight="bold" text-anchor="middle" fill="#000" transform="rotate(-90 35.70 688.90)" >Relative PAX5 expression</text>
<line x1="256.80" y1="622.05" x2="256.80" y2="754.60" stroke="#000" stroke-width="1.7" />
<line x1="255.95" y1="754.60" x2="389.50" y2="754.60" stroke="#000" stroke-width="1.7" />
<line x1="251.30" y1="754.60" x2="256.80" y2="754.60" stroke="#000" stroke-width="1.7" />
<text x="249.40" y="758.50" font-family="&quot;Liberation Serif&quot;, serif" font-size="9.6" font-weight="bold" text-anchor="end" fill="#000" >0.0</text>
<line x1="251.30" y1="710.70" x2="256.80" y2="710.70" stroke="#000" stroke-width="1.7" />
<text x="249.40" y="714.60" font-family="&quot;Liberation Serif&quot;, serif" font-size="9.6" font-weight="bold" text-anchor="end" fill="#000" >0.5</text>
<line x1="251.30" y1="666.80" x2="256.80" y2="666.80" stroke="#000" stroke-width="1.7" />
<text x="249.40" y="670.70" font-family="&quot;Liberation Serif&quot;, serif" font-size="9.6" font-weight="bold" text-anchor="end" fill="#000" >1.0</text>
<line x1="251.30" y1="622.90" x2="256.80" y2="622.90" stroke="#000" stroke-width="1.7" />
<text x="249.40" y="626.80" font-family="&quot;Liberation Serif&quot;, serif" font-size="9.6" font-weight="bold" text-anchor="end" fill="#000" >1.5</text>
<line x1="287.50" y1="754.60" x2="287.50" y2="759.30" stroke="#000" stroke-width="1.7" />
<line x1="358.70" y1="754.60" x2="358.70" y2="759.30" stroke="#000" stroke-width="1.7" />
<rect x="266.00" y="667.10" width="17.50" height="87.50" fill="#0000ff" />
<line x1="274.75" y1="661.50" x2="274.75" y2="668.10" stroke="#0000ff" stroke-width="1.1" />
<line x1="269.90" y1="661.50" x2="279.40" y2="661.50" stroke="#0000ff" stroke-width="1.1" />
<rect x="292.10" y="701.10" width="17.90" height="53.50" fill="#ff0000" />
<line x1="301.05" y1="698.40" x2="301.05" y2="702.10" stroke="#ff0000" stroke-width="1.1" />
<line x1="296.30" y1="698.40" x2="305.80" y2="698.40" stroke="#ff0000" stroke-width="1.1" />
<rect x="336.70" y="667.10" width="17.50" height="87.50" fill="#0000ff" />
<line x1="345.45" y1="662.80" x2="345.45" y2="668.10" stroke="#0000ff" stroke-width="1.1" />
<line x1="340.70" y1="662.80" x2="350.20" y2="662.80" stroke="#0000ff" stroke-width="1.1" />
<rect x="362.80" y="693.90" width="17.70" height="60.70" fill="#ff0000" />
<line x1="371.65" y1="690.50" x2="371.65" y2="694.90" stroke="#ff0000" stroke-width="1.1" />
<line x1="366.90" y1="690.50" x2="376.40" y2="690.50" stroke="#ff0000" stroke-width="1.1" />
<path d="M274.5,658.5 V654.5 H301.5 V694.5" stroke="#6e6e6e" stroke-width="1.0" fill="none" stroke-linecap="square"/>
<path d="M345.5,657.5 V654.5 H371.5 V688.5" stroke="#6e6e6e" stroke-width="1.0" fill="none" stroke-linecap="square"/>
<polygon points="286.70,649.49 287.17,650.29 288.08,650.49 287.46,651.18 287.55,652.11 286.70,651.74 285.85,652.11 285.94,651.18 285.32,650.49 286.23,650.29" fill="#000"/>
<polygon points="289.30,649.49 289.77,650.29 290.68,650.49 290.06,651.18 290.15,652.11 289.30,651.74 288.45,652.11 288.54,651.18 287.92,650.49 288.83,650.29" fill="#000"/>
<polygon points="358.10,650.19 358.57,650.99 359.48,651.19 358.86,651.88 358.95,652.81 358.10,652.44 357.25,652.81 357.34,651.88 356.72,651.19 357.63,650.99" fill="#000"/>
<polygon points="360.70,650.19 361.17,650.99 362.08,651.19 361.46,651.88 361.55,652.81 360.70,652.44 359.85,652.81 359.94,651.88 359.32,651.19 360.23,650.99" fill="#000"/>
<rect x="265.60" y="606.80" width="15.90" height="9.90" fill="#0000ff" />
<rect x="265.60" y="625.50" width="15.90" height="9.70" fill="#ff0000" />
<text x="288.40" y="616.00" font-family="&quot;Liberation Serif&quot;, serif" font-size="10.5" font-weight="normal" text-anchor="start" fill="#000" >si-NC</text>
<text x="288.20" y="633.60" font-family="&quot;Liberation Serif&quot;, serif" font-size="10.7" font-weight="normal" text-anchor="start" fill="#000" >si-PAX5-1</text>
<text x="288.20" y="771.80" font-family="&quot;Liberation Serif&quot;, serif" font-size="10" font-weight="bold" text-anchor="middle" fill="#000" >HCT116</text>
<text x="357.50" y="771.80" font-family="&quot;Liberation Serif&quot;, serif" font-size="10" font-weight="bold" text-anchor="middle" fill="#000" >DLD1</text>
<text x="231.80" y="688.80" font-family="&quot;Liberation Serif&quot;, serif" font-size="9.6" font-weight="bold" text-anchor="middle" fill="#000" transform="rotate(-90 231.80 688.80)" >Relative circ0020134 expression</text>
<line x1="438.90" y1="622.05" x2="438.90" y2="754.60" stroke="#000" stroke-width="1.7" />
<line x1="438.05" y1="754.60" x2="570.50" y2="754.60" stroke="#000" stroke-width="1.7" />
<line x1="433.10" y1="754.60" x2="438.90" y2="754.60" stroke="#000" stroke-width="1.7" />
<text x="431.40" y="758.50" font-family="&quot;Liberation Serif&quot;, serif" font-size="10" font-weight="bold" text-anchor="end" fill="#000" >0</text>
<line x1="433.10" y1="721.70" x2="438.90" y2="721.70" stroke="#000" stroke-width="1.7" />
<text x="431.40" y="725.60" font-family="&quot;Liberation Serif&quot;, serif" font-size="10" font-weight="bold" text-anchor="end" fill="#000" >2</text>
<line x1="433.10" y1="688.80" x2="438.90" y2="688.80" stroke="#000" stroke-width="1.7" />
<text x="431.40" y="692.70" font-family="&quot;Liberation Serif&quot;, serif" font-size="10" font-weight="bold" text-anchor="end" fill="#000" >4</text>
<line x1="433.10" y1="655.90" x2="438.90" y2="655.90" stroke="#000" stroke-width="1.7" />
<text x="431.40" y="659.80" font-family="&quot;Liberation Serif&quot;, serif" font-size="10" font-weight="bold" text-anchor="end" fill="#000" >6</text>
<line x1="433.10" y1="623.00" x2="438.90" y2="623.00" stroke="#000" stroke-width="1.7" />
<text x="431.40" y="626.90" font-family="&quot;Liberation Serif&quot;, serif" font-size="10" font-weight="bold" text-anchor="end" fill="#000" >8</text>
<line x1="469.10" y1="754.60" x2="469.10" y2="759.30" stroke="#000" stroke-width="1.7" />
<line x1="539.80" y1="754.60" x2="539.80" y2="759.30" stroke="#000" stroke-width="1.7" />
<rect x="447.60" y="738.50" width="17.70" height="16.10" fill="#0000ff" />
<line x1="456.45" y1="736.90" x2="456.45" y2="739.50" stroke="#0000ff" stroke-width="1.1" />
<line x1="451.50" y1="736.90" x2="461.50" y2="736.90" stroke="#0000ff" stroke-width="1.1" />
<rect x="474.30" y="647.40" width="17.50" height="107.20" fill="#ff0000" />
<line x1="483.05" y1="643.30" x2="483.05" y2="648.40" stroke="#ff0000" stroke-width="1.1" />
<line x1="478.30" y1="643.30" x2="487.80" y2="643.30" stroke="#ff0000" stroke-width="1.1" />
<rect x="518.30" y="738.50" width="17.20" height="16.10" fill="#0000ff" />
<line x1="526.90" y1="736.90" x2="526.90" y2="739.50" stroke="#0000ff" stroke-width="1.1" />
<line x1="522.20" y1="736.90" x2="531.60" y2="736.90" stroke="#0000ff" stroke-width="1.1" />
<rect x="545.10" y="666.00" width="17.40" height="88.60" fill="#ff0000" />
<line x1="553.80" y1="661.70" x2="553.80" y2="667.00" stroke="#ff0000" stroke-width="1.1" />
<line x1="549.10" y1="661.70" x2="558.50" y2="661.70" stroke="#ff0000" stroke-width="1.1" />
<path d="M456.5,734.5 V636.5 H483.5 V639.5" stroke="#6e6e6e" stroke-width="1.0" fill="none" stroke-linecap="square"/>
<path d="M526.5,734.5 V654.5 H553.5 V657.5" stroke="#6e6e6e" stroke-width="1.0" fill="none" stroke-linecap="square"/>
<polygon points="465.88,631.39 466.34,632.19 467.25,632.39 466.63,633.08 466.73,634.01 465.88,633.64 465.02,634.01 465.12,633.08 464.50,632.39 465.41,632.19" fill="#000"/>
<polygon points="468.43,631.39 468.89,632.19 469.80,632.39 469.18,633.08 469.28,634.01 468.43,633.64 467.57,634.01 467.67,633.08 467.05,632.39 467.96,632.19" fill="#000"/>
<polygon points="470.97,631.39 471.44,632.19 472.35,632.39 471.73,633.08 471.83,634.01 470.97,633.64 470.12,634.01 470.22,633.08 469.60,632.39 470.51,632.19" fill="#000"/>
<polygon points="473.52,631.39 473.99,632.19 474.90,632.39 474.28,633.08 474.38,634.01 473.52,633.64 472.67,634.01 472.77,633.08 472.15,632.39 473.06,632.19" fill="#000"/>
<polygon points="536.57,649.49 537.04,650.29 537.95,650.49 537.33,651.18 537.43,652.11 536.57,651.74 535.72,652.11 535.82,651.18 535.20,650.49 536.11,650.29" fill="#000"/>
<polygon points="539.12,649.49 539.59,650.29 540.50,650.49 539.88,651.18 539.98,652.11 539.12,651.74 538.27,652.11 538.37,651.18 537.75,650.49 538.66,650.29" fill="#000"/>
<polygon points="541.67,649.49 542.14,650.29 543.05,650.49 542.43,651.18 542.53,652.11 541.67,651.74 540.82,652.11 540.92,651.18 540.30,650.49 541.21,650.29" fill="#000"/>
<polygon points="544.23,649.49 544.69,650.29 545.60,650.49 544.98,651.18 545.08,652.11 544.23,651.74 543.37,652.11 543.47,651.18 542.85,650.49 543.76,650.29" fill="#000"/>
<rect x="447.10" y="595.00" width="16.00" height="10.50" fill="#0000ff" />
<rect x="447.10" y="613.70" width="16.00" height="10.20" fill="#ff0000" />
<text x="470.00" y="603.70" font-family="&quot;Liberation Serif&quot;, serif" font-size="10.6" font-weight="normal" text-anchor="start" fill="#000" >Vector</text>
<text x="470.00" y="623.30" font-family="&quot;Liberation Serif&quot;, serif" font-size="10.5" font-weight="normal" text-anchor="start" fill="#000" >PAX5</text>
<text x="469.50" y="771.80" font-family="&quot;Liberation Serif&quot;, serif" font-size="10" font-weight="bold" text-anchor="middle" fill="#000" >HCT116</text>
<text x="538.60" y="771.80" font-family="&quot;Liberation Serif&quot;, serif" font-size="10" font-weight="bold" text-anchor="middle" fill="#000" >DLD1</text>
<text x="420.00" y="688.60" font-family="&quot;Liberation Serif&quot;, serif" font-size="10.55" font-weight="bold" text-anchor="middle" fill="#000" transform="rotate(-90 420.00 688.60)" >Relative PAX5 expression</text>
<line x1="616.10" y1="622.05" x2="616.10" y2="754.50" stroke="#000" stroke-width="1.7" />
<line x1="615.25" y1="754.50" x2="748.90" y2="754.50" stroke="#000" stroke-width="1.7" />
<line x1="610.60" y1="754.50" x2="616.10" y2="754.50" stroke="#000" stroke-width="1.7" />
<text x="608.80" y="758.40" font-family="&quot;Liberation Serif&quot;, serif" font-size="9.6" font-weight="bold" text-anchor="end" fill="#000" >0.0</text>
<line x1="610.60" y1="728.17" x2="616.10" y2="728.17" stroke="#000" stroke-width="1.7" />
<text x="608.80" y="732.07" font-family="&quot;Liberation Serif&quot;, serif" font-size="9.6" font-weight="bold" text-anchor="end" fill="#000" >0.5</text>
<line x1="610.60" y1="701.84" x2="616.10" y2="701.84" stroke="#000" stroke-width="1.7" />
<text x="608.80" y="705.74" font-family="&quot;Liberation Serif&quot;, serif" font-size="9.6" font-weight="bold" text-anchor="end" fill="#000" >1.0</text>
<line x1="610.60" y1="675.51" x2="616.10" y2="675.51" stroke="#000" stroke-width="1.7" />
<text x="608.80" y="679.41" font-family="&quot;Liberation Serif&quot;, serif" font-size="9.6" font-weight="bold" text-anchor="end" fill="#000" >1.5</text>
<line x1="610.60" y1="649.18" x2="616.10" y2="649.18" stroke="#000" stroke-width="1.7" />
<text x="608.80" y="653.08" font-family="&quot;Liberation Serif&quot;, serif" font-size="9.6" font-weight="bold" text-anchor="end" fill="#000" >2.0</text>
<line x1="610.60" y1="622.85" x2="616.10" y2="622.85" stroke="#000" stroke-width="1.7" />
<text x="608.80" y="626.75" font-family="&quot;Liberation Serif&quot;, serif" font-size="9.6" font-weight="bold" text-anchor="end" fill="#000" >2.5</text>
<line x1="647.50" y1="754.50" x2="647.50" y2="759.30" stroke="#000" stroke-width="1.7" />
<line x1="717.80" y1="754.50" x2="717.80" y2="759.30" stroke="#000" stroke-width="1.7" />
<rect x="624.90" y="702.20" width="17.90" height="52.30" fill="#0000ff" />
<line x1="633.85" y1="697.30" x2="633.85" y2="703.20" stroke="#0000ff" stroke-width="1.1" />
<line x1="628.80" y1="697.30" x2="638.90" y2="697.30" stroke="#0000ff" stroke-width="1.1" />
<rect x="651.40" y="652.40" width="17.40" height="102.10" fill="#ff0000" />
<line x1="660.10" y1="647.40" x2="660.10" y2="653.40" stroke="#ff0000" stroke-width="1.1" />
<line x1="655.20" y1="647.40" x2="665.00" y2="647.40" stroke="#ff0000" stroke-width="1.1" />
<rect x="695.60" y="702.20" width="17.70" height="52.30" fill="#0000ff" />
<line x1="704.45" y1="697.30" x2="704.45" y2="703.20" stroke="#0000ff" stroke-width="1.1" />
<line x1="699.40" y1="697.30" x2="709.50" y2="697.30" stroke="#0000ff" stroke-width="1.1" />
<rect x="722.10" y="664.40" width="17.70" height="90.10" fill="#ff0000" />
<line x1="730.95" y1="658.70" x2="730.95" y2="665.40" stroke="#ff0000" stroke-width="1.1" />
<line x1="726.00" y1="658.70" x2="736.00" y2="658.70" stroke="#ff0000" stroke-width="1.1" />
<path d="M633.5,693.5 V641.5 H660.5 V644.5" stroke="#6e6e6e" stroke-width="1.0" fill="none" stroke-linecap="square"/>
<path d="M704.5,693.5 V652.5 H730.5 V655.5" stroke="#6e6e6e" stroke-width="1.0" fill="none" stroke-linecap="square"/>
<polygon points="644.60,636.99 645.07,637.79 645.98,637.99 645.36,638.68 645.45,639.61 644.60,639.24 643.75,639.61 643.84,638.68 643.22,637.99 644.13,637.79" fill="#000"/>
<polygon points="647.10,636.99 647.57,637.79 648.48,637.99 647.86,638.68 647.95,639.61 647.10,639.24 646.25,639.61 646.34,638.68 645.72,637.99 646.63,637.79" fill="#000"/>
<polygon points="649.60,636.99 650.07,637.79 650.98,637.99 650.36,638.68 650.45,639.61 649.60,639.24 648.75,639.61 648.84,638.68 648.22,637.99 649.13,637.79" fill="#000"/>
<polygon points="715.80,648.99 716.27,649.79 717.18,649.99 716.56,650.68 716.65,651.61 715.80,651.24 714.95,651.61 715.04,650.68 714.42,649.99 715.33,649.79" fill="#000"/>
<polygon points="718.30,648.99 718.77,649.79 719.68,649.99 719.06,650.68 719.15,651.61 718.30,651.24 717.45,651.61 717.54,650.68 716.92,649.99 717.83,649.79" fill="#000"/>
<polygon points="720.80,648.99 721.27,649.79 722.18,649.99 721.56,650.68 721.65,651.61 720.80,651.24 719.95,651.61 720.04,650.68 719.42,649.99 720.33,649.79" fill="#000"/>
<rect x="624.40" y="601.20" width="15.90" height="9.90" fill="#0000ff" />
<rect x="624.40" y="619.90" width="15.90" height="9.70" fill="#ff0000" />
<text x="647.40" y="609.30" font-family="&quot;Liberation Serif&quot;, serif" font-size="10.5" font-weight="normal" text-anchor="start" fill="#000" >Vector</text>
<text x="647.40" y="627.80" font-family="&quot;Liberation Serif&quot;, serif" font-size="10.6" font-weight="normal" text-anchor="start" fill="#000" >PAX5</text>
<text x="647.20" y="771.80" font-family="&quot;Liberation Serif&quot;, serif" font-size="10" font-weight="bold" text-anchor="middle" fill="#000" >HCT116</text>
<text x="716.40" y="771.80" font-family="&quot;Liberation Serif&quot;, serif" font-size="10" font-weight="bold" text-anchor="middle" fill="#000" >DLD1</text>
<text x="590.70" y="689.00" font-family="&quot;Liberation Serif&quot;, serif" font-size="9.6" font-weight="bold" text-anchor="middle" fill="#000" transform="rotate(-90 590.70 689.00)" >Relative circ0020134 expression</text>
</svg>
</body></html>
